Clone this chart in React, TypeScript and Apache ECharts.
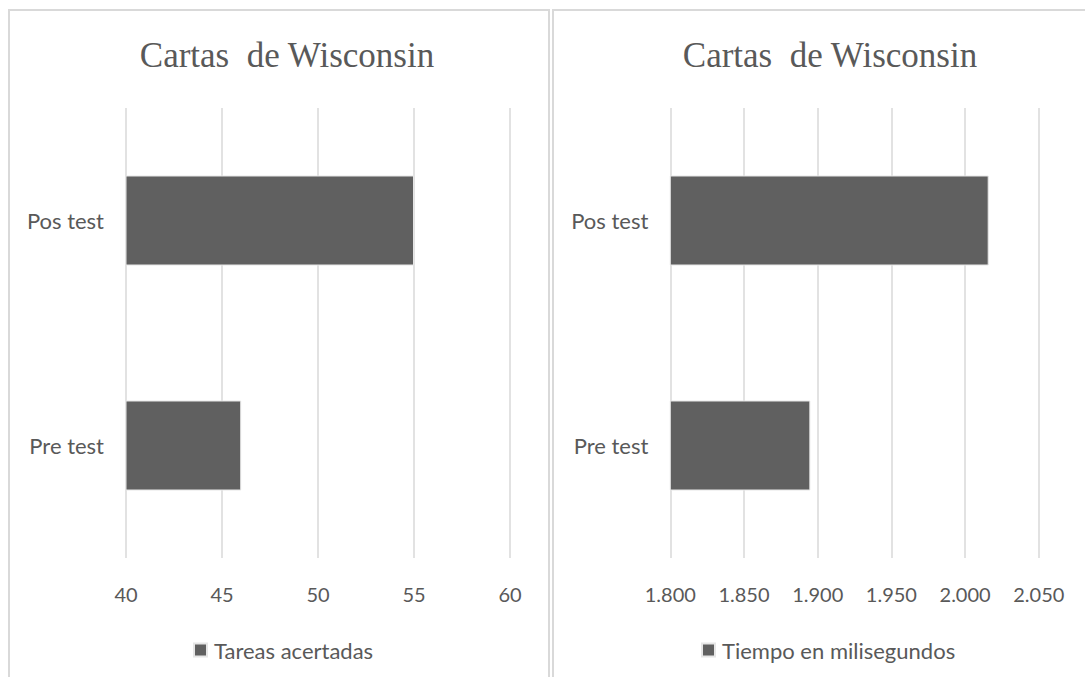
import React, { useEffect, useRef } from "react";
import * as echarts from "echarts";

const categories = ["Pre test", "Pos test"];
const tareasAcertadas = [46, 55];
const tiempoMs = [1895, 2016];
const titleText = "Cartas  de Wisconsin";
const seriesNames = ["Tareas acertadas", "Tiempo en milisegundos"];

const TEXT = "#595959";
const GRID = "#d9d9d9";
const BAR = "#606060";
const SANS = "Lato, 'Open Sans', sans-serif";

function fmtThousands(v: number): string {
  return String(Math.round(v)).replace(/\B(?=(\d{3})+(?!\d))/g, ".");
}

export default function App() {
  const ref = useRef<HTMLDivElement>(null);
  useEffect(() => {
    if (!ref.current) return;
    const chart = echarts.init(ref.current, undefined, { renderer: "svg" });
    const catAxis = (gridIndex: number) => ({
      type: "category" as const,
      gridIndex,
      data: categories,
      axisLine: { show: false },
      axisTick: { show: false },
      axisLabel: { color: TEXT, fontSize: 22, fontFamily: SANS, margin: 22 },
    });
    const valAxis = (gridIndex: number, min: number, max: number, interval: number, fmt?: (v: number) => string) => ({
      type: "value" as const,
      gridIndex,
      min,
      max,
      interval,
      axisLine: { show: false },
      axisTick: { show: false },
      splitLine: { show: true, lineStyle: { color: GRID, width: 1.5 } },
      axisLabel: {
        color: TEXT,
        fontSize: 20,
        fontFamily: SANS,
        margin: 26,
        formatter: fmt ? (v: number) => fmt(v) : undefined,
      },
    });
    const titleStyle = {
      fontFamily: "'Liberation Serif', 'DejaVu Serif', serif",
      fontSize: 35,
      fontWeight: "normal" as const,
      color: TEXT,
    };
    const legendText = { color: TEXT, fontSize: 22, fontFamily: SANS, padding: [0, 0, 0, 2] };
    chart.setOption({
      animation: false,
      backgroundColor: "#ffffff",
      title: [
        { text: titleText, left: 282, top: 33, textAlign: "center", textStyle: titleStyle },
        { text: titleText, left: 825, top: 33, textAlign: "center", textStyle: titleStyle },
      ],
      legend: [
        {
          data: [seriesNames[0]],
          left: 188,
          top: 634,
          icon: "rect",
          itemWidth: 13,
          itemHeight: 13,
          textStyle: legendText,
        },
        {
          data: [seriesNames[1]],
          left: 696,
          top: 634,
          icon: "rect",
          itemWidth: 13,
          itemHeight: 13,
          textStyle: legendText,
        },
      ],
      grid: [
        { left: 126, top: 108, width: 384, height: 450 },
        { left: 670.3, top: 108, width: 368.5, height: 450 },
      ],
      xAxis: [valAxis(0, 40, 60, 5), valAxis(1, 1800, 2050, 50, fmtThousands)],
      yAxis: [catAxis(0), catAxis(1)],
      series: [
        {
          name: seriesNames[0],
          type: "bar",
          xAxisIndex: 0,
          yAxisIndex: 0,
          data: tareasAcertadas,
          barWidth: "40%",
          itemStyle: { color: BAR, borderColor: "#e6e6e6", borderWidth: 1 },
        },
        {
          name: seriesNames[1],
          type: "bar",
          xAxisIndex: 1,
          yAxisIndex: 1,
          data: tiempoMs,
          barWidth: "40%",
          itemStyle: { color: BAR, borderColor: "#e6e6e6", borderWidth: 1 },
        },
      ],
      graphic: [
        {
          type: "rect",
          shape: { x: 9, y: 10, width: 540, height: 700 },
          style: { fill: "none", stroke: GRID, lineWidth: 2 },
          silent: true,
        },
        {
          type: "rect",
          shape: { x: 553, y: 10, width: 600, height: 700 },
          style: { fill: "none", stroke: GRID, lineWidth: 2 },
          silent: true,
        },
      ],
    });
    return () => chart.dispose();
  }, []);
  return (
    <div
      ref={ref}
      style={{ position: "fixed", left: 0, top: 0, width: 1085, height: 677, background: "#fff" }}
    />
  );
}
